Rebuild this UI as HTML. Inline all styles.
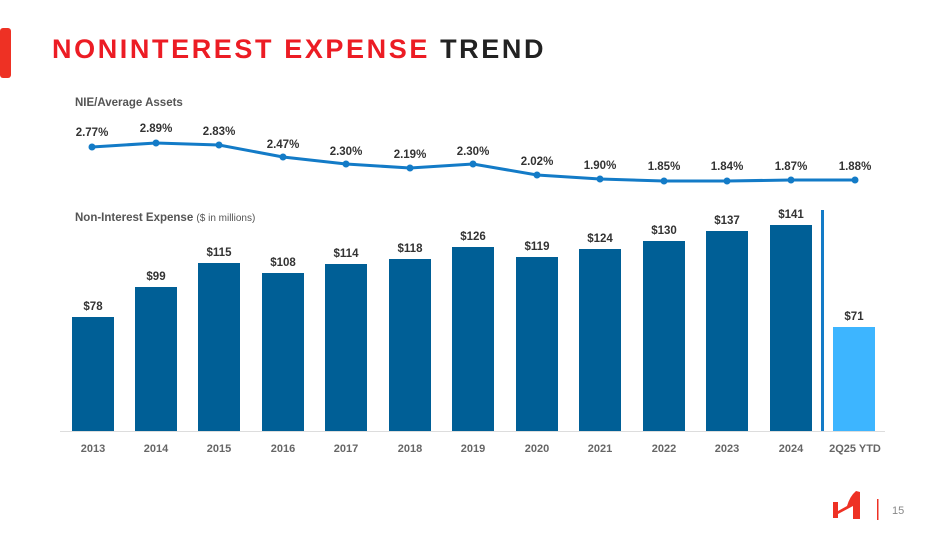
<!DOCTYPE html>
<html><head><meta charset="utf-8"><style>
html,body{margin:0;padding:0;background:#fff;}
body{width:949px;height:534px;overflow:hidden;position:relative;font-family:"Liberation Sans",sans-serif;}
</style></head><body>
<svg width="949" height="534" viewBox="0 0 949 534" xmlns="http://www.w3.org/2000/svg" style="position:absolute;left:0;top:0">
<rect x="0" y="28" width="11" height="50" rx="3" fill="#ee3124"/>
<text x="52" y="58" font-family="Liberation Sans" font-size="27" font-weight="bold" letter-spacing="2.6" fill="#ec1c24">NONINTEREST EXPENSE <tspan fill="#222">TREND</tspan></text>
<text x="75" y="106" font-size="11.5" font-weight="bold" fill="#555">NIE/Average Assets</text>
<text x="75" y="221" font-size="11.5" font-weight="bold" fill="#555">Non-Interest Expense <tspan font-weight="normal" font-size="10">($ in millions)</tspan></text>
<polyline fill="none" stroke="#137bc7" stroke-width="3" points="92,147 156,143 219,145 283,157 346,164 410,168 473,164 537,175 600,179 664,181 727,181 791,180 855,180"/>
<g fill="#137bc7">
<circle cx="92" cy="147" r="3.5"/><circle cx="156" cy="143" r="3.5"/><circle cx="219" cy="145" r="3.5"/><circle cx="283" cy="157" r="3.5"/><circle cx="346" cy="164" r="3.5"/><circle cx="410" cy="168" r="3.5"/><circle cx="473" cy="164" r="3.5"/><circle cx="537" cy="175" r="3.5"/><circle cx="600" cy="179" r="3.5"/><circle cx="664" cy="181" r="3.5"/><circle cx="727" cy="181" r="3.5"/><circle cx="791" cy="180" r="3.5"/><circle cx="855" cy="180" r="3.5"/>
</g>
<g font-size="11.5" font-weight="bold" fill="#333" text-anchor="middle">
<text x="92" y="136">2.77%</text><text x="156" y="132">2.89%</text><text x="219" y="135">2.83%</text><text x="283" y="148">2.47%</text><text x="346" y="155">2.30%</text><text x="410" y="158">2.19%</text><text x="473" y="155">2.30%</text><text x="537" y="165">2.02%</text><text x="600" y="169">1.90%</text><text x="664" y="170">1.85%</text><text x="727" y="170">1.84%</text><text x="791" y="170">1.87%</text><text x="855" y="170">1.88%</text>
</g>
<g fill="#005f96">
<rect x="72" y="317" width="42" height="114"/><rect x="135" y="287" width="42" height="144"/><rect x="198" y="263" width="42" height="168"/><rect x="262" y="273" width="42" height="158"/><rect x="325" y="264" width="42" height="167"/><rect x="389" y="259" width="42" height="172"/><rect x="452" y="247" width="42" height="184"/><rect x="516" y="257" width="42" height="174"/><rect x="579" y="249" width="42" height="182"/><rect x="643" y="241" width="42" height="190"/><rect x="706" y="231" width="42" height="200"/><rect x="770" y="225" width="42" height="206"/>
</g>
<rect x="833" y="327" width="42" height="104" fill="#3db5ff"/>
<rect x="821" y="210" width="3" height="221" fill="#137bc7"/>
<line x1="60" y1="431.5" x2="885" y2="431.5" stroke="#ddd" stroke-width="1"/>
<g font-size="11.5" font-weight="bold" fill="#333" text-anchor="middle">
<text x="93" y="310">$78</text><text x="156" y="280">$99</text><text x="219" y="256">$115</text><text x="283" y="266">$108</text><text x="346" y="257">$114</text><text x="410" y="252">$118</text><text x="473" y="240">$126</text><text x="537" y="250">$119</text><text x="600" y="242">$124</text><text x="664" y="234">$130</text><text x="727" y="224">$137</text><text x="791" y="218">$141</text><text x="854" y="320">$71</text>
</g>
<g font-size="11" font-weight="bold" fill="#666" text-anchor="middle">
<text x="93" y="452">2013</text><text x="156" y="452">2014</text><text x="219" y="452">2015</text><text x="283" y="452">2016</text><text x="346" y="452">2017</text><text x="410" y="452">2018</text><text x="473" y="452">2019</text><text x="537" y="452">2020</text><text x="600" y="452">2021</text><text x="664" y="452">2022</text><text x="727" y="452">2023</text><text x="791" y="452">2024</text><text x="855" y="452">2Q25 YTD</text>
</g>
<path d="M833,518 L833,502 L838,502 L838,511 L847,506 Q850,496 856,491 L860,492 L860,519 L853,519 L853,506 L838,514 L838,518 Z" fill="#ee3124"/>
<rect x="877" y="499" width="1.5" height="21" fill="#ee3124"/>
<text x="892" y="514" font-size="11" fill="#888">15</text>
</svg>
</body></html>
